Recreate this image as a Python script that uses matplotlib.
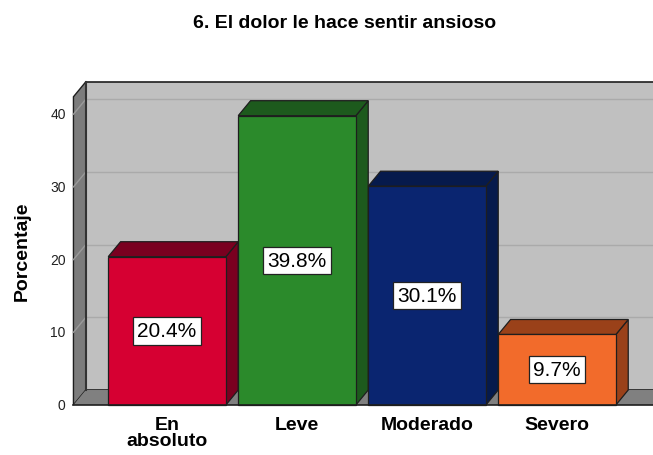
import matplotlib.pyplot as plt
from matplotlib.patches import Polygon, Rectangle

plt.rcParams['font.family'] = ['Liberation Sans', 'DejaVu Sans']

# data
categories = ['En\nabsoluto', 'Leve', 'Moderado', 'Severo']
percent = [20.4, 39.8, 30.1, 9.7]
value_labels = ['20.4%', '39.8%', '30.1%', '9.7%']
yticks = [0, 10, 20, 30, 40]
title = '6. El dolor le hace sentir ansioso'
ylabel = 'Porcentaje'

face_colors = ['#d60032', '#2b8a2b', '#0a2570', '#f26b2b']
dark_colors = ['#7a0020', '#1d5a1d', '#061a4c', '#9a4119']

# 3d look: depth offset in data units
bar_w = 0.905
dx, dy = 0.095, 2.06
x_left, x_right = -0.72, 3.76
ymax = 42.4
edge = '#1e1e1e'

fig = plt.figure(figsize=(6.53, 4.56), dpi=100)
ax = fig.add_axes([0, 0, 1, 1])
ax.set_xlim(-1.285, 3.738)
ax.set_ylim(-6.88, 55.85)
ax.axis('off')

# back wall
ax.add_patch(Rectangle((x_left + dx, dy), x_right - x_left, ymax, facecolor='#c0c0c0',
                       edgecolor=edge, lw=1.2, zorder=1))
for t in yticks[1:]:
    ax.plot([x_left + dx, x_right + dx], [t + dy, t + dy], color='#aaaaaa', lw=1, zorder=2)

# left wall
ax.add_patch(Polygon([(x_left, 0), (x_left, ymax), (x_left + dx, ymax + dy), (x_left + dx, dy)],
                     closed=True, facecolor='#7c7c7c', edgecolor=edge, lw=1, zorder=2))
for t in yticks[1:]:
    ax.plot([x_left, x_left + dx], [t, t + dy], color='#9a9a9a', lw=1, zorder=3)
ax.plot([x_left + dx, x_left + dx], [dy, ymax + dy], color='#333333', lw=1.5, zorder=3)

# floor
ax.add_patch(Polygon([(x_left, 0), (x_right, 0), (x_right + dx, dy), (x_left + dx, dy)],
                     closed=True, facecolor='#808080', edgecolor='none', zorder=2))
ax.plot([x_left, x_right], [0, 0], color=edge, lw=1.2, zorder=6)

# bars
for i, v in enumerate(percent):
    x0, x1 = i - bar_w / 2, i + bar_w / 2
    ax.add_patch(Polygon([(x1, 0), (x1 + dx, dy), (x1 + dx, v + dy), (x1, v)],
                         closed=True, facecolor=dark_colors[i], edgecolor=edge, lw=0.9, zorder=4))
    ax.add_patch(Polygon([(x0, v), (x1, v), (x1 + dx, v + dy), (x0 + dx, v + dy)],
                         closed=True, facecolor=dark_colors[i], edgecolor=edge, lw=0.9, zorder=4))
    ax.add_patch(Rectangle((x0, 0), bar_w, v, facecolor=face_colors[i], edgecolor=edge,
                           lw=0.9, zorder=5))
    ax.text(i, v / 2, value_labels[i], ha='center', va='center', fontsize=15, zorder=7,
            bbox=dict(boxstyle='square,pad=0.2', facecolor='white', edgecolor='#222222', lw=0.9))
    ax.text(i, -1.5, categories[i], ha='center', va='top', fontsize=14, fontweight='bold',
            linespacing=0.95)

# y tick labels
for t in yticks:
    ax.text(x_left - 0.06, t, str(t), ha='right', va='center', fontsize=10, color='#222222')

ax.text(-1.115, 21.3, ylabel, rotation=90, ha='center', va='center', fontsize=14,
        fontweight='bold')
fig.text(0.528, 1 - 24 / 456, title, ha='center', va='center', fontsize=14, fontweight='bold')

fig.savefig('out.png', dpi=100)
